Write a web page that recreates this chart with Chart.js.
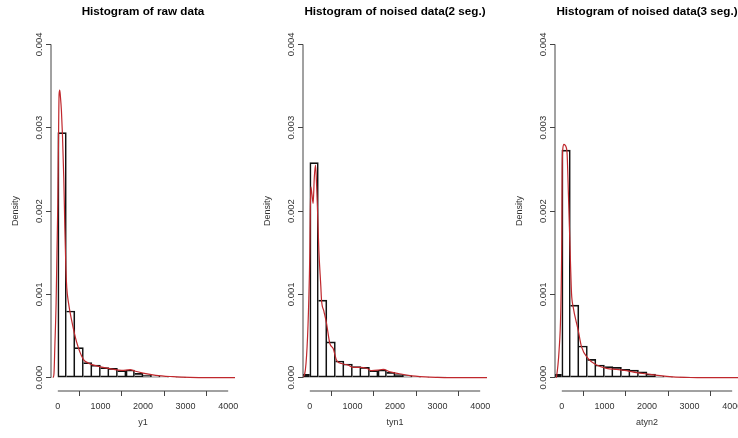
<!DOCTYPE html>
<html>
<head>
<meta charset="utf-8">
<script src="https://cdn.jsdelivr.net/npm/chart.js@4"></script>
<style>
  html, body { margin: 0; padding: 0; background: #fff; overflow: hidden; }
  #wrap { position: relative; width: 738px; height: 438px; overflow: hidden; }
  .panel { position: absolute; top: 0; width: 252px; height: 438px; }
</style>
</head>
<body>
<div id="wrap">
  <div class="panel" style="left:0"><canvas id="h1" width="252" height="438"></canvas></div>
  <div class="panel" style="left:252px"><canvas id="h2" width="252" height="438"></canvas></div>
  <div class="panel" style="left:504px"><canvas id="h3" width="252" height="438"></canvas></div>
</div>
<script>
// histogram bins (left edges, width 200)
const binLeft = [-200, 0, 200, 400, 600, 800, 1000, 1200, 1400, 1600, 1800, 2000, 2200, 2400, 2600, 2800, 3000];
const binWidth = 200;

// bar heights (density)
const rawHist = [null, 0.00294, 0.00080, 0.00036, 0.00018, 0.00015, 0.00012, 0.000112, 0.000084, 0.000092, 0.000052, 0.00003, 0.000018, 0.000012, 0.000006, 0.000004, null];
const seg2Hist = [0.00004, 0.00258, 0.00093, 0.00043, 0.00020, 0.000164, 0.000132, 0.000124, 0.000084, 0.000092, 0.000064, 0.000036, 0.000024, 0.000012, 0.000008, 0.000006, 0.000004];
const seg3Hist = [0.00004, 0.00273, 0.00087, 0.00038, 0.00022, 0.000152, 0.000132, 0.000124, 0.0001, 0.00009, 0.00007, 0.000044, 0.00002, 0.00001, 0.000006, 0.000004, null];

// kernel density curves
const rawKx = [-110, -90, -70, -40, -20, 0, 15, 30, 45, 60, 85, 110, 140, 165, 190, 210, 250, 320, 440, 600, 700, 800, 1000, 1250, 1500, 1700, 1800, 2000, 2300, 2700, 3100, 3500, 4160];
const rawKy = [0, 0.00005, 0.00037, 0.0009, 0.0015, 0.0021, 0.0028, 0.0034, 0.00345, 0.00338, 0.0032, 0.0029, 0.0024, 0.0018, 0.0013, 0.00108, 0.0009, 0.0007, 0.00043, 0.00022, 0.00018, 0.000156, 0.00013, 0.000105, 0.000087, 0.000096, 0.00008, 0.000055, 0.000028, 0.000012, 0.000003, 0.000001, 0];

const seg2Kx = [-180, -118, -64, -24, 0, 10, 24, 50, 78, 105, 134, 160, 181, 212, 259, 275, 330, 393, 470, 549, 628, 745, 902, 1020, 1176, 1333, 1451, 1600, 1725, 1882, 2078, 2314, 2706, 3000, 3300, 4160];
const seg2Ky = [0, 0.00005, 0.00037, 0.00093, 0.0015, 0.00195, 0.00229, 0.0022, 0.00209, 0.0024, 0.00255, 0.0023, 0.00201, 0.00153, 0.00109, 0.00093, 0.0008, 0.00065, 0.00041, 0.00035, 0.00021, 0.00017, 0.00015, 0.000124, 0.000124, 0.000113, 0.000084, 0.00009, 0.0001, 0.00007, 0.00005, 0.000028, 0.00001, 0.000004, 0.000001, 0];

const seg3Kx = [-133, -125, -64, -24, 0, 8, 24, 50, 78, 100, 125, 157, 204, 228, 266, 384, 463, 619, 816, 1051, 1287, 1522, 1757, 2071, 2306, 2600, 3000, 3400, 4160];
const seg3Ky = [0, 0.00001, 0.00033, 0.00081, 0.0017, 0.00245, 0.00275, 0.0028, 0.00279, 0.00277, 0.00268, 0.00217, 0.00137, 0.00101, 0.00085, 0.00057, 0.00037, 0.00023, 0.000152, 0.000112, 0.0001, 0.000084, 0.00006, 0.00004, 0.000024, 0.00001, 0.000002, 0, 0];

// axis ticks
const xTicks = [0, 1000, 2000, 3000, 4000];
const yTicks = [0, 0.001, 0.002, 0.003, 0.004];

Chart.defaults.font.family = "Arial, 'Liberation Sans', Helvetica, sans-serif";
Chart.defaults.font.size = 9;

const axisColor = "#444";
const textColor = "#333";

// R style axis lines: only from first to last tick
const rAxes = {
  id: "rAxes",
  afterDraw(chart) {
    const { ctx, chartArea, scales: { x, y } } = chart;
    ctx.save();
    ctx.strokeStyle = axisColor;
    ctx.lineWidth = 1;
    ctx.beginPath();
    ctx.moveTo(chartArea.left, y.getPixelForValue(yTicks[0]));
    ctx.lineTo(chartArea.left, y.getPixelForValue(yTicks[yTicks.length - 1]));
    ctx.moveTo(x.getPixelForValue(xTicks[0]), chartArea.bottom);
    ctx.lineTo(x.getPixelForValue(xTicks[xTicks.length - 1]), chartArea.bottom);
    ctx.stroke();
    ctx.restore();
  }
};

function histPanel(id, title, xLabel, heights, kx, ky) {
  // shared edge between two bins is drawn only once, by the taller one
  const skipEdge = (c) => {
    const i = c.dataIndex;
    const prev = i > 0 ? heights[i - 1] : null;
    const next = i < heights.length - 1 ? heights[i + 1] : null;
    if (prev != null && heights[i] <= prev) return "left";
    if (next != null && heights[i] < next) return "right";
    return false;
  };

  new Chart(document.getElementById(id).getContext("2d"), {
    type: "bar",
    data: {
      datasets: [
        {
          type: "line",
          data: kx.map((v, i) => ({ x: v, y: ky[i] })),
          borderColor: "#c0282d",
          borderWidth: 1.2,
          pointRadius: 0,
          cubicInterpolationMode: "monotone",
          order: 0,
        },
        {
          type: "bar",
          data: binLeft.map((v, i) => ({ x: v + binWidth / 2, y: heights[i] })),
          backgroundColor: "rgba(255,255,255,0)",
          borderColor: "#111",
          borderWidth: 1,
          borderSkipped: skipEdge,
          barPercentage: 1,
          categoryPercentage: 1,
          order: 1,
        },
      ],
    },
    options: {
      responsive: false,
      animation: false,
      layout: { padding: { top: 0, right: 17, bottom: 0, left: 0 } },
      plugins: {
        legend: { display: false },
        tooltip: { enabled: false },
        title: {
          display: true,
          text: title,
          color: "#000",
          fullSize: false,
          font: { size: 11.7, weight: "bold" },
          padding: { top: 5, bottom: 12 },
        },
      },
      scales: {
        x: {
          type: "linear",
          offset: false,
          min: -160,
          max: 4160,
          afterBuildTicks: (s) => { s.ticks = xTicks.map((value) => ({ value })); },
          afterFit: (s) => { s.height = 47; },
          grid: { drawOnChartArea: false, tickLength: 5, color: axisColor },
          border: { display: false },
          ticks: { color: textColor, padding: 5, autoSkip: false, maxRotation: 0, callback: (v) => String(v) },
          title: { display: true, text: xLabel, color: textColor, padding: { top: 0, bottom: 10 } },
        },
        y: {
          min: -0.00016,
          max: 0.00416,
          afterBuildTicks: (s) => { s.ticks = yTicks.map((value) => ({ value })); },
          afterFit: (s) => { s.width = 51; },
          grid: { drawOnChartArea: false, tickLength: 5, color: axisColor },
          border: { display: false },
          ticks: {
            color: textColor,
            font: { size: 9.5 },
            minRotation: 90,
            maxRotation: 90,
            crossAlign: "center",
            padding: -5,
            autoSkip: false,
            callback: (v) => v.toFixed(3),
          },
          title: { display: true, text: "Density", color: textColor, padding: { top: 10, bottom: 0 } },
        },
      },
    },
    plugins: [rAxes],
  });
}

histPanel("h1", "Histogram of raw data", "y1", rawHist, rawKx, rawKy);
histPanel("h2", "Histogram of noised data(2 seg.)", "tyn1", seg2Hist, seg2Kx, seg2Ky);
histPanel("h3", "Histogram of noised data(3 seg.)", "atyn2", seg3Hist, seg3Kx, seg3Ky);
</script>
</body>
</html>
